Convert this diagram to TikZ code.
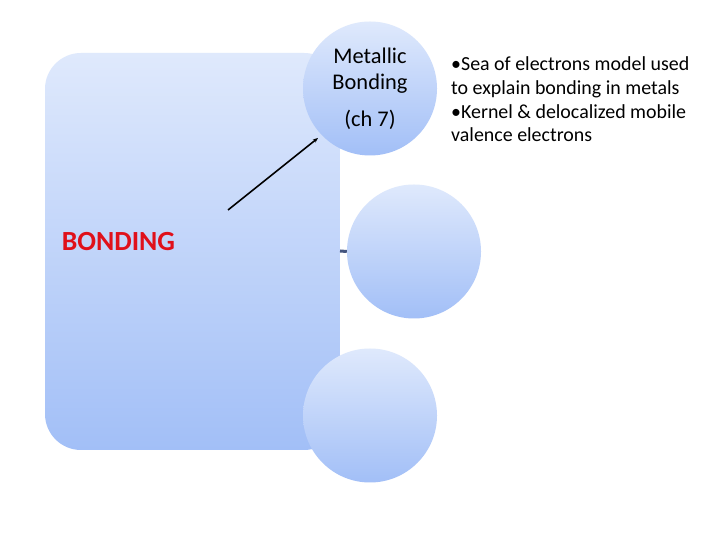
\documentclass[tikz,border=0pt]{standalone}
\usepackage{fontspec}
\setmainfont{Carlito}
\usetikzlibrary{arrows.meta}
\definecolor{gtop}{HTML}{DFE9FC}
\definecolor{gbot}{HTML}{A2BFF7}
\definecolor{dashc}{HTML}{44557F}
\definecolor{bred}{HTML}{E0101A}
\tikzset{
  grad/.style={top color=gtop, bottom color=gbot, draw=none},
  bubble/.style={grad, circle, minimum size=134bp, inner sep=0pt, align=center,
    font=\fontsize{22.5}{26}\selectfont},
  bodytext/.style={align=left, inner sep=0pt, font=\fontsize{20}{24}\selectfont},
}
\begin{document}
\begin{tikzpicture}[x=1bp,y=1bp]
\useasboundingbox (0,0) rectangle (720,540);
\fill[white] (0,0) rectangle (720,540);
% main rounded box
\path[grad, rounded corners=36bp] (45,90) rectangle (340,487);
\node[anchor=center, text=bred, font=\fontsize{27.8}{32}\selectfont\bfseries, inner sep=0pt] (bonding) at (118.5,298) {BONDING};
% bubbles
\node[bubble] (metal) at (370,451.5) {Metallic\\Bonding\\[11bp](ch 7)};
\node[bubble] (mid) at (414,288.5) {};
\node[bubble] (low) at (370,124.5) {};
% connectors
\coordinate (astart) at (228,330);
\coordinate (aend) at (318,402);
\draw[line width=1.6bp, -{Stealth[length=5bp,width=4bp]}] (astart) -- (aend);
\coordinate (dstart) at (340,289);
\draw[dashc, line width=3bp] (dstart) -- (mid.west);
% text
\node[bodytext, anchor=base west] (desc) at (451,398) {•Sea of electrons model used\\to explain bonding in metals\\•Kernel \& delocalized mobile\\valence electrons};
\end{tikzpicture}
\end{document}
